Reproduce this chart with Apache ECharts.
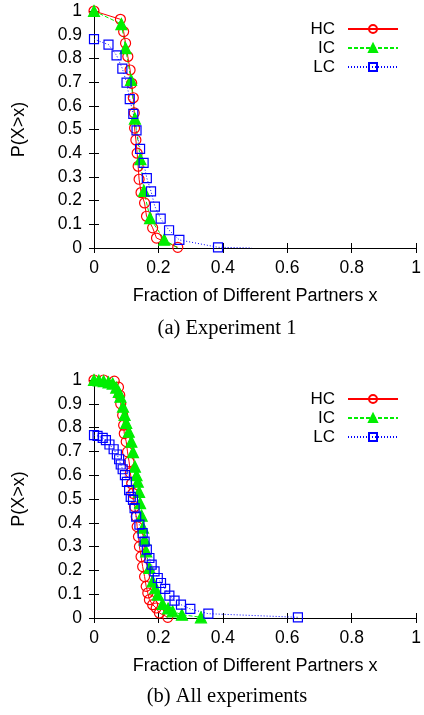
<!DOCTYPE html>
<html>
<head>
<meta charset="utf-8">
<script src="https://cdn.jsdelivr.net/npm/echarts@6/dist/echarts.min.js"></script>
<style>
html,body{margin:0;padding:0;background:#fff;}
#c{width:424px;height:715px;}
</style>
</head>
<body>
<div id="c"></div>
<script>
// ---- data (x = fraction of different partners, y = P(X>x)) ----
var seriesNames = ['HC', 'IC', 'LC'];
var captions = ['(a) Experiment 1', '(b) All experiments'];
var xTicks = [0, 0.2, 0.4, 0.6, 0.8, 1];
var yTicks = [0, 0.1, 0.2, 0.3, 0.4, 0.5, 0.6, 0.7, 0.8, 0.9, 1];

// Experiment 1
var hc1 = [[0,1],[0.082,0.965],[0.092,0.913],[0.098,0.864],[0.105,0.808],[0.112,0.751],[0.117,0.695],[0.122,0.634],[0.125,0.57],[0.126,0.506],[0.13,0.456],[0.134,0.40],[0.137,0.345],[0.14,0.29],[0.146,0.234],[0.157,0.19],[0.163,0.134],[0.182,0.085],[0.194,0.042],[0.26,0.003]];
var ic1 = [[0,1],[0.085,0.945],[0.098,0.843],[0.115,0.709],[0.127,0.546],[0.144,0.375],[0.155,0.241],[0.174,0.126],[0.218,0.035],[0.26,0]];
var lc1 = [[0,0.881],[0.045,0.858],[0.07,0.813],[0.088,0.757],[0.101,0.698],[0.111,0.628],[0.122,0.566],[0.132,0.496],[0.143,0.418],[0.154,0.359],[0.164,0.295],[0.177,0.239],[0.189,0.175],[0.207,0.124],[0.233,0.075],[0.265,0.034],[0.385,0.003],[0.49,0]];
// points drawn without a marker (tail end of the line only)
var ic1NoMark = [9];
var lc1NoMark = [17];

// All experiments
var hc2 = [[0,1],[0.03,1],[0.063,0.995],[0.076,0.97],[0.08,0.936],[0.083,0.90],[0.089,0.852],[0.092,0.81],[0.094,0.775],[0.1,0.741],[0.104,0.698],[0.109,0.656],[0.113,0.61],[0.117,0.565],[0.121,0.524],[0.126,0.468],[0.131,0.426],[0.134,0.384],[0.138,0.342],[0.141,0.30],[0.146,0.258],[0.151,0.216],[0.157,0.174],[0.162,0.133],[0.167,0.105],[0.172,0.077],[0.182,0.056],[0.193,0.042],[0.203,0.021],[0.229,0.003]];
var ic2 = [[0,1],[0.015,0.998],[0.03,0.995],[0.045,0.99],[0.058,0.985],[0.069,0.968],[0.077,0.95],[0.082,0.93],[0.09,0.888],[0.095,0.853],[0.1,0.82],[0.108,0.783],[0.116,0.741],[0.121,0.697],[0.127,0.636],[0.132,0.6],[0.136,0.573],[0.14,0.53],[0.143,0.483],[0.148,0.43],[0.152,0.38],[0.157,0.33],[0.162,0.28],[0.172,0.21],[0.182,0.154],[0.19,0.125],[0.198,0.098],[0.213,0.059],[0.23,0.04],[0.244,0.028],[0.273,0.014],[0.332,0.003]];
var lc2 = [[0,0.768],[0.011,0.765],[0.027,0.757],[0.037,0.747],[0.048,0.729],[0.061,0.709],[0.071,0.687],[0.078,0.667],[0.083,0.645],[0.089,0.625],[0.096,0.60],[0.102,0.572],[0.109,0.537],[0.114,0.509],[0.121,0.496],[0.126,0.462],[0.131,0.426],[0.141,0.392],[0.151,0.357],[0.157,0.321],[0.164,0.287],[0.172,0.252],[0.179,0.224],[0.188,0.196],[0.198,0.168],[0.208,0.147],[0.221,0.122],[0.234,0.094],[0.25,0.073],[0.27,0.056],[0.299,0.038],[0.355,0.018],[0.633,0.003]];

// ---- chart ----
var SANS = '"Liberation Sans", Arial, Helvetica, sans-serif';
var SERIF = '"Liberation Serif", "Times New Roman", serif';

function withNoMark(data, idx) {
  return data.map(function (p, i) {
    return idx.indexOf(i) >= 0 ? { value: p, symbol: 'none' } : p;
  });
}

var styles = {
  HC: { color: '#ff0000', symbol: 'circle', size: 10, fill: 'rgba(0,0,0,0)', line: 'solid' },
  IC: { color: '#00ee00', symbol: 'triangle', size: 11, fill: '#00ee00', line: [4, 2] },
  LC: { color: '#0000ff', symbol: 'rect', size: 9, fill: 'rgba(0,0,0,0)', line: [1, 2] }
};

function mkSeries(name, data, gi) {
  var s = styles[name];
  return {
    name: name, type: 'line', xAxisIndex: gi * 2, yAxisIndex: gi * 2,
    data: data, symbol: s.symbol, symbolSize: s.size, showAllSymbol: true,
    animation: false, silent: true,
    lineStyle: { color: s.color, width: 1, type: s.line },
    itemStyle: { color: s.fill, borderColor: s.color, borderWidth: 1.2 }
  };
}

function xAx(gi, main) {
  return {
    type: 'value', gridIndex: gi, position: main ? 'bottom' : 'top',
    min: 0, max: 1, interval: 0.2,
    name: main ? 'Fraction of Different Partners x' : '',
    nameLocation: 'middle', nameGap: 39,
    nameTextStyle: { fontFamily: SANS, fontSize: 18, color: '#000' },
    axisLine: { show: true, lineStyle: { color: '#000', width: 1 } },
    axisTick: { show: true, inside: true, length: 5, lineStyle: { color: '#000' } },
    axisLabel: { show: main, fontFamily: SANS, fontSize: 17.5, color: '#000', margin: 11 },
    splitLine: { show: false }
  };
}
function yAx(gi, main) {
  return {
    type: 'value', gridIndex: gi, position: main ? 'left' : 'right',
    min: 0, max: 1, interval: 0.1,
    name: main ? 'P(X>x)' : '',
    nameLocation: 'middle', nameGap: 66, nameRotate: 90,
    nameTextStyle: { fontFamily: SANS, fontSize: 18, color: '#000' },
    axisLine: { show: true, lineStyle: { color: '#000', width: 1 } },
    axisTick: { show: true, inside: true, length: 5, lineStyle: { color: '#000' } },
    axisLabel: { show: main, fontFamily: SANS, fontSize: 17.5, color: '#000', margin: 12 },
    splitLine: { show: false }
  };
}
function legend(top) {
  return {
    data: seriesNames, orient: 'vertical', align: 'right',
    right: 20, top: top, itemWidth: 50, itemHeight: 10, itemGap: 2,
    selectedMode: false,
    textStyle: { fontFamily: SANS, fontSize: 17, color: '#000', lineHeight: 17, padding: [0, 8, 0, 0] }
  };
}

var chart = echarts.init(document.getElementById('c'), null, { renderer: 'canvas' });
chart.setOption({
  backgroundColor: '#fff',
  animation: false,
  title: [
    { text: captions[0], left: 222, top: 313, textAlign: 'center',
      textStyle: { fontFamily: SERIF, fontSize: 20.5, fontWeight: 'normal', color: '#000' } },
    { text: captions[1], left: 222, top: 681, textAlign: 'center',
      textStyle: { fontFamily: SERIF, fontSize: 20.5, fontWeight: 'normal', color: '#000' } }
  ],
  legend: [legend(15.5), legend(385.5)],
  grid: [
    { left: 94, top: 11, width: 325, height: 237 },
    { left: 94, top: 380, width: 325, height: 238 }
  ],
  xAxis: [xAx(0, true), xAx(0, false), xAx(1, true), xAx(1, false)],
  yAxis: [yAx(0, true), yAx(0, false), yAx(1, true), yAx(1, false)],
  series: [
    mkSeries('HC', hc1, 0),
    mkSeries('IC', withNoMark(ic1, ic1NoMark), 0),
    mkSeries('LC', withNoMark(lc1, lc1NoMark), 0),
    mkSeries('HC', hc2, 1),
    mkSeries('IC', ic2, 1),
    mkSeries('LC', lc2, 1)
  ]
});
</script>
</body>
</html>
